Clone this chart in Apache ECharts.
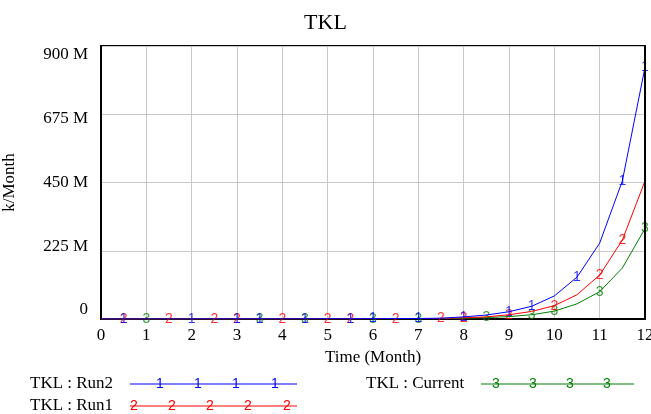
<!DOCTYPE html>
<html>
<head>
<meta charset="utf-8">
<script src="https://cdn.jsdelivr.net/npm/echarts@6/dist/echarts.min.js"></script>
<style>
  html, body { margin: 0; padding: 0; background: #fff; }
  #chart { width: 651px; height: 414px; }
</style>
</head>
<body>
<div id="chart"></div>
<script>
// time steps, months
const times = [0, 0.5, 1, 1.5, 2, 2.5, 3, 3.5, 4, 4.5, 5, 5.5, 6, 6.5, 7, 7.5, 8, 8.5, 9, 9.5, 10, 10.5, 11, 11.5, 12];
// values in millions k/Month
const run2 = [0.1, 0.15, 0.2, 0.25, 0.3, 0.4, 0.5, 0.6, 0.7, 0.8, 0.9, 1.0, 1.2, 1.4, 1.8, 2.6, 7, 13, 24, 42, 76, 138, 250, 455, 830];
const run1 = [0.1, 0.12, 0.15, 0.2, 0.25, 0.3, 0.35, 0.4, 0.5, 0.6, 0.7, 0.8, 0.9, 1.0, 1.2, 2.0, 4, 7, 14, 25, 44, 80, 145, 260, 455];
const current = [0.05, 0.08, 0.1, 0.12, 0.15, 0.2, 0.25, 0.3, 0.35, 0.4, 0.5, 0.6, 0.7, 0.8, 0.9, 1.3, 2.5, 4.5, 8, 14, 26, 50, 90, 168, 298];
// where the run numbers sit on each line
const run2Marks = [0.5, 2, 3, 3.5, 4.5, 5.5, 6, 7, 8, 9, 9.5, 10.5, 11.5, 12];
const run1Marks = [0.5, 1.5, 2.5, 3, 4, 5, 5.5, 6.5, 7.5, 8, 9, 10, 11, 11.5];
const currentMarks = [1, 3.5, 4.5, 6, 7, 8.5, 9.5, 10, 11, 12];
const yTicks = [0, 225, 450, 675, 900];
const yTickText = ['0', '225 M', '450 M', '675 M', '900 M'];

const chart = echarts.init(document.getElementById('chart'));

function pairs(vals) {
  return times.map((t, i) => [t, vals[i]]);
}
function marks(ts, vals) {
  return ts.map(t => [t, vals[times.indexOf(t)]]);
}
function lineSeries(name, vals, color) {
  return {
    name: name,
    type: 'line',
    data: pairs(vals),
    showSymbol: false,
    lineStyle: {color: color, width: 1},
    itemStyle: {color: color},
    animation: false
  };
}
function markSeries(ts, vals, color, txt) {
  return {
    type: 'scatter',
    data: marks(ts, vals),
    symbolSize: 0,
    itemStyle: {color: color},
    label: {
      show: true,
      position: 'inside',
      formatter: txt,
      color: color,
      fontFamily: 'Liberation Sans',
      fontSize: 14
    },
    animation: false
  };
}

const serif = 'Liberation Serif';
const legendY1 = 384, legendY2 = 406;

function legendLine(x1, x2, y, color, txt, xs) {
  const els = [{
    type: 'line',
    shape: {x1: x1, y1: y, x2: x2, y2: y},
    style: {stroke: color, lineWidth: 1}
  }];
  xs.forEach(x => {
    els.push({
      type: 'text',
      x: x, y: y,
      style: {text: txt, fill: color, font: '14px Liberation Sans', align: 'center', verticalAlign: 'middle'}
    });
  });
  return els;
}

// vensim spreads the value labels a little inside the frame
const shift = {t0: [0, 0, 18, 0], t1: [0, 0, 9, 0], t2: [0, 0, 0, 0], t3: [9, 0, 0, 0], t4: [18, 0, 0, 0]};
const rich = {};
Object.keys(shift).forEach(k => {
  rich[k] = {fontFamily: serif, fontSize: 17, color: '#000', padding: shift[k]};
});

const frameLine = {show: true, onZero: false, lineStyle: {color: '#000', width: 2}};
const grayGrid = {lineStyle: {color: '#c8c8c8', width: 1}};

let option = {
  backgroundColor: '#fff',
  title: {
    text: 'TKL',
    left: 'center',
    top: 7,
    textStyle: {fontFamily: serif, fontSize: 22, fontWeight: 'normal', color: '#000'}
  },
  grid: {
    left: 101, right: 6, top: 46, bottom: 95,
    outerBoundsMode: 'none',
    show: true, borderColor: '#000', borderWidth: 2
  },
  xAxis: [{
    type: 'value',
    min: 0, max: 12, interval: 1,
    name: 'Time (Month)',
    nameLocation: 'middle',
    nameGap: 29,
    nameTextStyle: {fontFamily: serif, fontSize: 17, color: '#000'},
    axisLine: frameLine,
    axisTick: {show: false},
    axisLabel: {fontFamily: serif, fontSize: 17, color: '#000', margin: 8},
    splitLine: grayGrid
  }],
  yAxis: [{
    type: 'value',
    min: 0, max: 900, interval: 225,
    name: 'k/Month',
    nameLocation: 'middle',
    nameGap: 83,
    nameTextStyle: {fontFamily: serif, fontSize: 17, color: '#000'},
    axisLine: frameLine,
    axisTick: {show: false},
    axisLabel: {
      margin: 13,
      formatter: v => {
        const i = yTicks.indexOf(v);
        return '{t' + i + '|' + yTickText[i] + '}';
      },
      rich: rich
    },
    splitLine: grayGrid
  }, {
    type: 'value',
    position: 'right',
    z: 10,
    min: 0, max: 900, interval: 225,
    axisLine: frameLine,
    axisTick: {show: false},
    axisLabel: {show: false},
    splitLine: {show: false}
  }],
  series: [
    lineSeries('TKL : Current', current, '#008000'),
    lineSeries('TKL : Run1', run1, '#ff0000'),
    lineSeries('TKL : Run2', run2, '#0000ff'),
    markSeries(currentMarks, current, '#008000', '3'),
    markSeries(run1Marks, run1, '#ff0000', '2'),
    markSeries(run2Marks, run2, '#0000ff', '1')
  ],
  graphic: [].concat(
    [{type: 'text', x: 30, y: legendY1, style: {text: 'TKL : Run2', fill: '#000', font: '17px Liberation Serif', verticalAlign: 'middle'}}],
    legendLine(130, 297, legendY1, '#0000ff', '1', [160, 198, 236, 275]),
    [{type: 'text', x: 30, y: legendY2, style: {text: 'TKL : Run1', fill: '#000', font: '17px Liberation Serif', verticalAlign: 'middle'}}],
    legendLine(130, 297, legendY2, '#ff0000', '2', [134, 172, 210, 248, 287]),
    [{type: 'text', x: 366, y: legendY1, style: {text: 'TKL : Current', fill: '#000', font: '17px Liberation Serif', verticalAlign: 'middle'}}],
    legendLine(481, 634, legendY1, '#008000', '3', [496, 533, 570, 607])
  )
};

chart.setOption(option);
</script>
</body>
</html>
